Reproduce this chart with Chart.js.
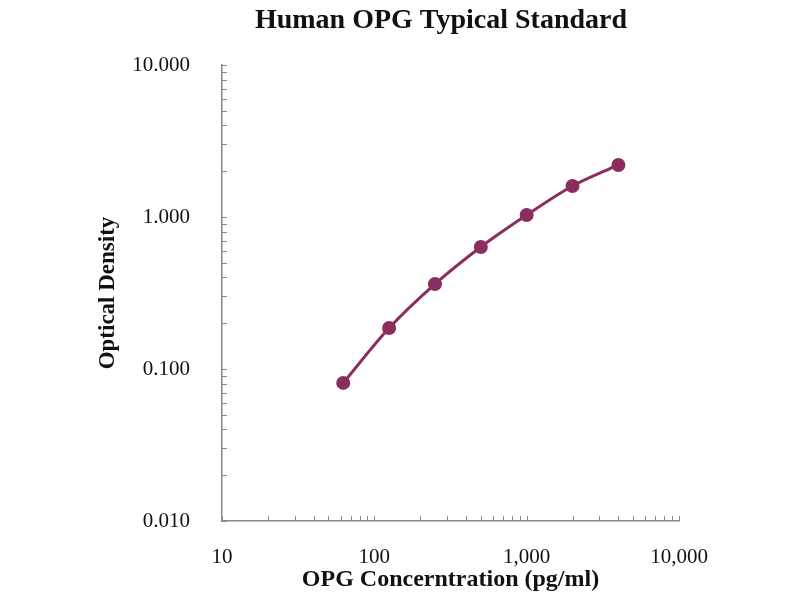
<!DOCTYPE html>
<html>
<head>
<meta charset="utf-8">
<script src="https://cdn.jsdelivr.net/npm/chart.js@4.4.0/dist/chart.umd.min.js"></script>
<style>
  html, body { margin: 0; padding: 0; background: #fff; }
</style>
</head>
<body>
<canvas id="myChart" width="800" height="600"></canvas>
<script>
const titleText = 'Human OPG Typical Standard';
const xTitle = 'OPG Concerntration (pg/ml)';
const yTitle = 'Optical Density';

// standard curve points
const concentrations = [62.5, 125, 250, 500, 1000, 2000, 4000];
const densities = [0.081, 0.186, 0.362, 0.635, 1.03, 1.60, 2.20];

const xRange = [10, 10000];
const yRange = [0.01, 10];

const serif = "'Liberation Serif', 'Times New Roman', serif";
const lineColor = '#8b2d5e';
const axisColor = '#8a8a8a';

function isDecade(v) {
    const l = Math.log10(v);
    return Math.abs(l - Math.round(l)) < 1e-9;
}

// small tick marks drawn inward from the axis lines
const innerTicks = {
    id: 'innerTicks',
    afterDraw(chart) {
        const c = chart.ctx;
        const area = chart.chartArea;
        c.save();
        c.strokeStyle = axisColor;
        c.lineWidth = 1;
        c.beginPath();
        const xs = chart.scales.x, ys = chart.scales.y;
        for (let p = Math.log10(xRange[0]); p < Math.log10(xRange[1]); p++) {
            for (let k = 1; k <= 10; k++) {
                const px = Math.round(xs.getPixelForValue(k * Math.pow(10, p))) + 0.5;
                c.moveTo(px, area.bottom);
                c.lineTo(px, area.bottom - 5);
            }
        }
        for (let p = Math.round(Math.log10(yRange[0])); p < Math.round(Math.log10(yRange[1])); p++) {
            for (let k = 1; k <= 10; k++) {
                const py = Math.round(ys.getPixelForValue(k * Math.pow(10, p))) + 0.5;
                c.moveTo(area.left, py);
                c.lineTo(area.left + 5, py);
            }
        }
        c.stroke();
        c.restore();
    }
};

const titlePlugin = {
    id: 'topTitle',
    afterDraw(chart) {
        const c = chart.ctx;
        c.save();
        c.font = 'bold 28px ' + serif;
        c.fillStyle = '#111';
        c.textAlign = 'center';
        c.textBaseline = 'middle';
        c.fillText(titleText, 441, 21);
        c.restore();
    }
};

const ctx = document.getElementById('myChart');

const myChart = new Chart(ctx, {
    type: 'line',
    data: {
        datasets: [{
            label: 'OD',
            data: concentrations.map((x, i) => ({ x: x, y: densities[i] })),
            borderColor: lineColor,
            backgroundColor: lineColor,
            borderWidth: 3,
            pointRadius: 7,
            pointBorderWidth: 0,
            tension: 0.4,
            cubicInterpolationMode: 'monotone',
            fill: false
        }]
    },
    options: {
        responsive: false,
        animation: false,
        devicePixelRatio: 1,
        layout: {
            padding: { top: 65, right: 121, left: 0, bottom: 0 }
        },
        plugins: {
            legend: { display: false },
            tooltip: { enabled: false },
            title: { display: false }
        },
        scales: {
            x: {
                type: 'logarithmic',
                min: xRange[0],
                max: xRange[1],
                afterFit(scale) { scale.height = 79; },
                grid: { display: false },
                border: { display: true, color: axisColor, width: 1.5 },
                ticks: {
                    autoSkip: false,
                    maxRotation: 0,
                    padding: 16,
                    color: '#111',
                    font: { family: serif, size: 21 },
                    callback: (v) => isDecade(v) ? Number(v).toLocaleString('en-US') : null
                },
                title: {
                    display: true,
                    text: xTitle,
                    color: '#111',
                    font: { family: serif, size: 24, weight: 'bold' },
                    padding: { top: 0, bottom: 6 }
                }
            },
            y: {
                type: 'logarithmic',
                min: yRange[0],
                max: yRange[1],
                afterFit(scale) { scale.width = 222; },
                grid: { display: false },
                border: { display: true, color: axisColor, width: 1.5 },
                ticks: {
                    autoSkip: false,
                    padding: 24,
                    color: '#111',
                    font: { family: serif, size: 21 },
                    callback: (v) => isDecade(v) ? Number(v).toFixed(3) : null
                },
                title: {
                    display: true,
                    text: yTitle,
                    color: '#111',
                    font: { family: serif, size: 23, weight: 'bold' },
                    padding: { top: 94, bottom: 0 }
                }
            }
        }
    },
    plugins: [innerTicks, titlePlugin]
});
</script>
</body>
</html>
